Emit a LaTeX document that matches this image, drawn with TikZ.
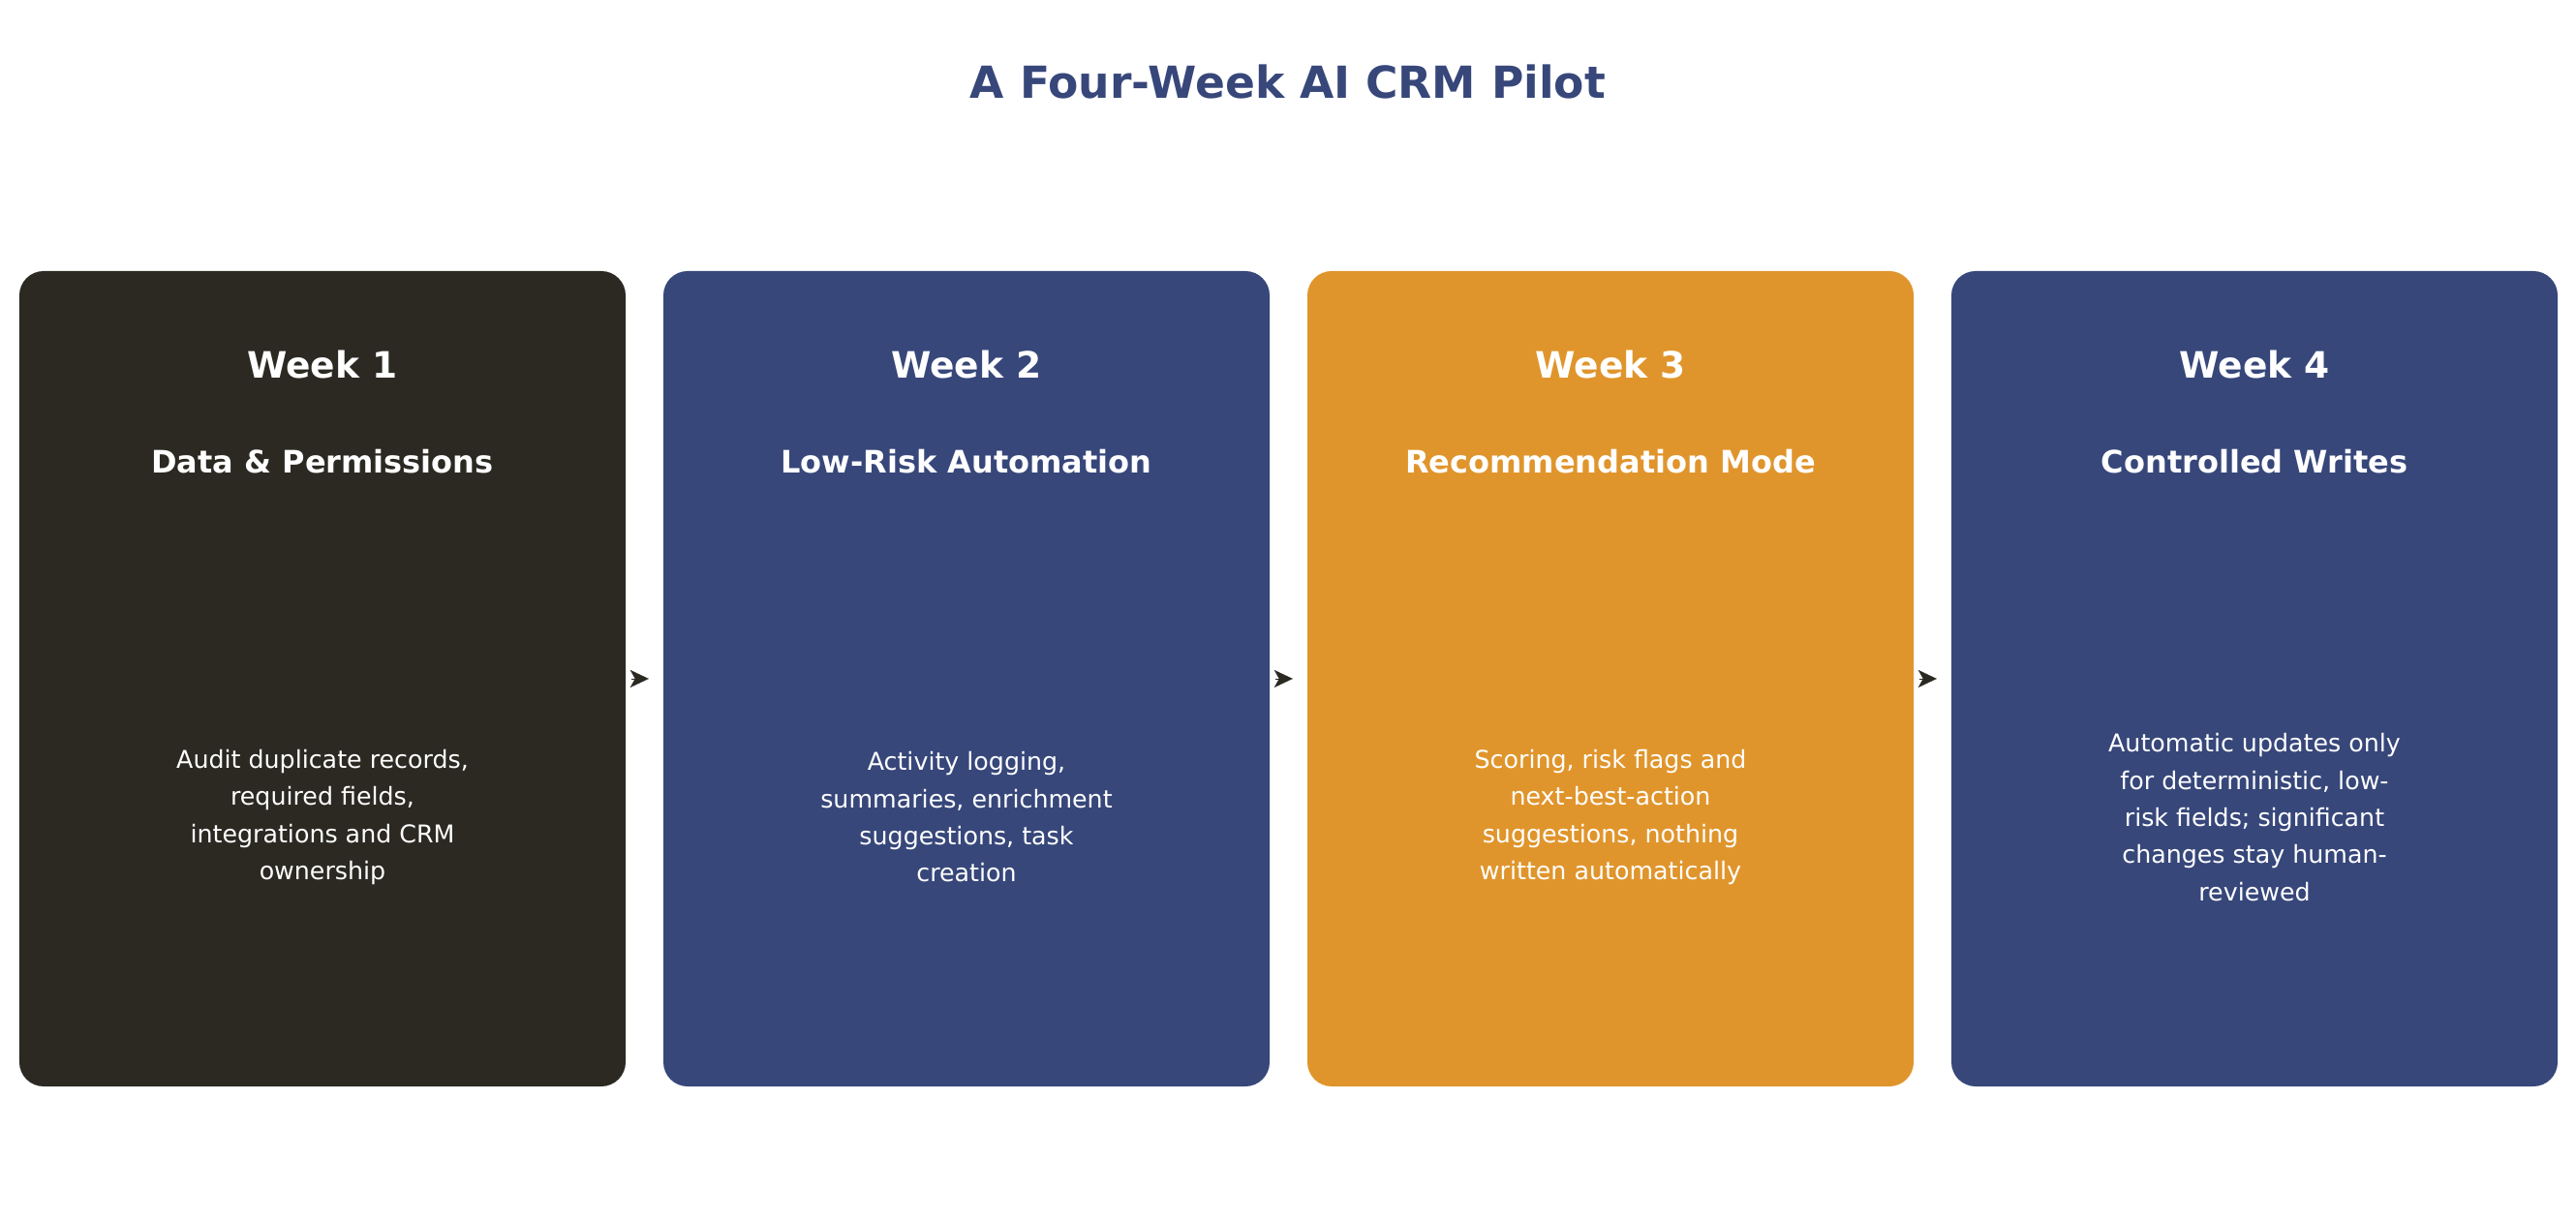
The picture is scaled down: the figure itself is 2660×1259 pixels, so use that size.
\documentclass[tikz,border=0pt]{standalone}
\usepackage{fontspec}
\setmainfont{DejaVu Sans}
\usetikzlibrary{arrows.meta}
\definecolor{pilotnavy}{HTML}{37477A}
\definecolor{pilotdark}{HTML}{2B2922}
\definecolor{pilotorange}{HTML}{E0952C}
\tikzset{
  weekbox/.style={inner sep=0pt, minimum width=626bp, minimum height=842bp, rounded corners=25bp},
  weektitle/.style={text=white, font=\fontsize{37.5bp}{45bp}\selectfont\bfseries},
  weeksub/.style={text=white, font=\fontsize{32bp}{38bp}\selectfont\bfseries},
  weekbody/.style={text=white, align=center, font=\fontsize{25.3bp}{38.3bp}\selectfont},
  flow/.style={draw=pilotdark, line width=0.2bp, -{Stealth[length=19bp, width=18bp, inset=5bp]}, shorten <=6bp, shorten >=15bp}
}
\begin{document}
\begin{tikzpicture}[x=1bp, y=1bp]
\useasboundingbox (0,0) rectangle (2660,1259);
\node[text=pilotnavy, font=\fontsize{45.6bp}{54bp}\selectfont\bfseries] (title) at (1330,1174) {A Four-Week AI CRM Pilot};
% the four weeks
\node[weekbox, fill=pilotdark] (w1) at (333,558) {};
\node[weekbox, fill=pilotnavy] (w2) at (998,558) {};
\node[weekbox, fill=pilotorange] (w3) at (1663,558) {};
\node[weekbox, fill=pilotnavy] (w4) at (2328,558) {};
\node[weektitle] (w1title) at (333,882) {Week 1};
\node[weektitle] (w2title) at (998,882) {Week 2};
\node[weektitle] (w3title) at (1663,882) {Week 3};
\node[weektitle] (w4title) at (2328,882) {Week 4};
\node[weeksub] (w1sub) at (333,782) {Data \& Permissions};
\node[weeksub] (w2sub) at (998,782) {Low-Risk Automation};
\node[weeksub] (w3sub) at (1663,782) {Recommendation Mode};
\node[weeksub] (w4sub) at (2328,782) {Controlled Writes};
\node[weekbody] (w1body) at (333,415) {Audit duplicate records,\\required fields,\\integrations and CRM\\ownership};
\node[weekbody] (w2body) at (998,415) {Activity logging,\\summaries, enrichment\\suggestions, task\\creation};
\node[weekbody] (w3body) at (1663,415) {Scoring, risk flags and\\next-best-action\\suggestions, nothing\\written automatically};
\node[weekbody] (w4body) at (2328,415) {Automatic updates only\\for deterministic, low-\\risk fields; significant\\changes stay human-\\reviewed};
% arrows between weeks
\draw[flow] (w1) -- (w2);
\draw[flow] (w2) -- (w3);
\draw[flow] (w3) -- (w4);
\end{tikzpicture}
\end{document}
